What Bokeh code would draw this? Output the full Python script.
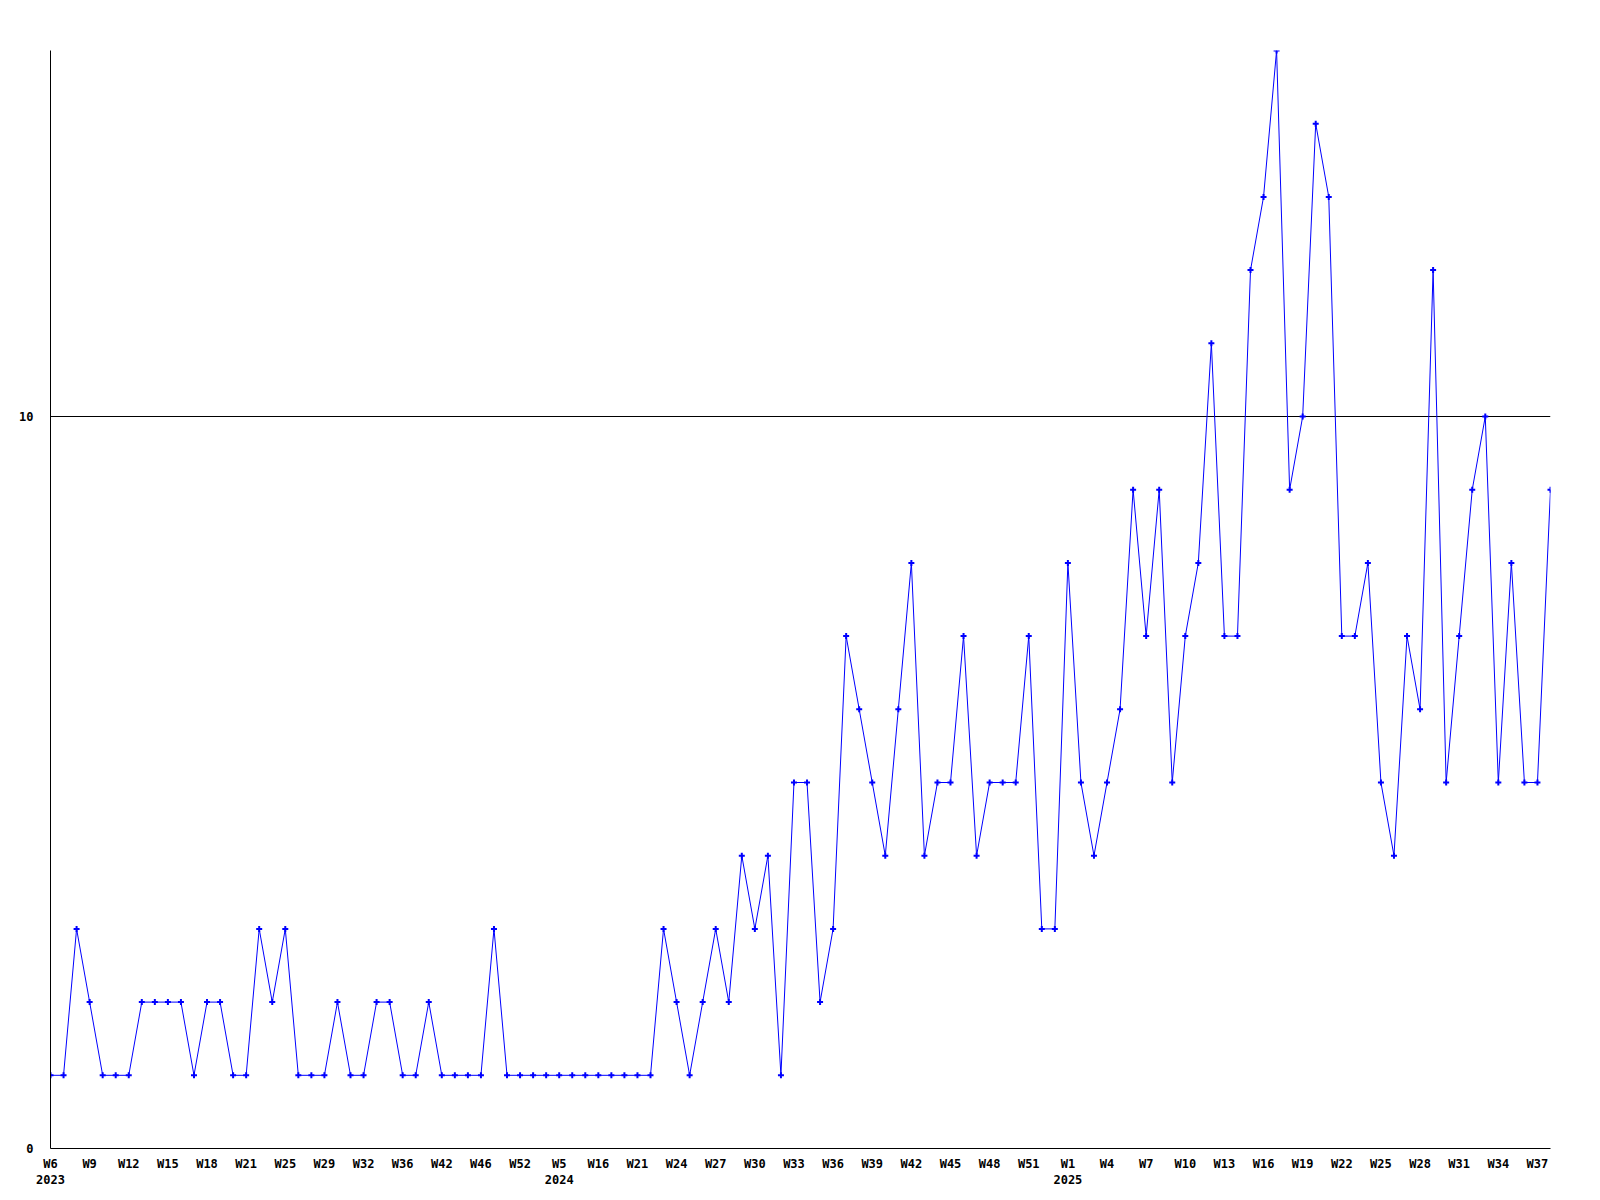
from bokeh.plotting import figure
from bokeh.models import Range1d, FixedTicker, ColumnDataSource
from bokeh.embed import file_html
from bokeh.resources import INLINE

# weekly values, W6 2023 .. W38 2025 (one point per reported week)
values = [
    1, 1, 3, 2, 1, 1, 1, 2, 2, 2, 2, 1, 2, 2, 1, 1, 3, 2, 3, 1,
    1, 1, 2, 1, 1, 2, 2, 1, 1, 2, 1, 1, 1, 1, 3, 1, 1, 1, 1, 1,
    1, 1, 1, 1, 1, 1, 1, 3, 2, 1, 2, 3, 2, 4, 3, 4, 1, 5, 5, 2,
    3, 7, 6, 5, 4, 6, 8, 4, 5, 5, 7, 4, 5, 5, 5, 7, 3, 3, 8, 5,
    4, 5, 6, 9, 7, 9, 5, 7, 8, 11, 7, 7, 12, 13, 15, 9, 10, 14, 13, 7,
    7, 8, 5, 4, 7, 6, 12, 5, 7, 9, 10, 5, 8, 5, 5, 9,
]

# labels shown on every third point
tick_labels = [
    "W6\n2023", "W9", "W12", "W15", "W18", "W21", "W25", "W29", "W32", "W36",
    "W42", "W46", "W52", "W5\n2024", "W16", "W21", "W24", "W27", "W30", "W33",
    "W36", "W39", "W42", "W45", "W48", "W51", "W1\n2025", "W4", "W7", "W10",
    "W13", "W16", "W19", "W22", "W25", "W28", "W31", "W34", "W37",
]
y_ticks = [0, 10]

x = list(range(len(values)))
tick_pos = list(range(0, len(values), 3))[:len(tick_labels)]

src = ColumnDataSource(dict(x=x, y=values))

p = figure(width=1590, height=1190, output_backend="svg", toolbar_location=None,
           x_range=Range1d(0, len(values) - 1), y_range=Range1d(0, max(values)),
           min_border_left=50, min_border_top=50, min_border_right=40, min_border_bottom=40)
p.outline_line_color = None
p.background_fill_color = "white"
p.border_fill_color = "white"

p.line("x", "y", source=src, line_color="#0000ff", line_width=1)
p.scatter("x", "y", source=src, marker="cross", size=6, line_color="#0000ff", line_width=2)

font = "DejaVu Sans Mono"
p.xaxis.ticker = FixedTicker(ticks=tick_pos)
p.xaxis.major_label_overrides = {tp: lab for tp, lab in zip(tick_pos, tick_labels)}
p.xaxis.minor_tick_line_color = None
p.xaxis.major_tick_out = 0
p.xaxis.major_tick_in = 0
p.xaxis.major_label_standoff = 8
p.xaxis.axis_line_color = "black"

p.yaxis.ticker = FixedTicker(ticks=y_ticks)
p.yaxis.minor_tick_line_color = None
p.yaxis.major_tick_out = 0
p.yaxis.major_tick_in = 0
p.yaxis.major_label_standoff = 17
p.yaxis.axis_line_color = "black"

for ax in (p.xaxis, p.yaxis):
    ax.major_label_text_font = font
    ax.major_label_text_font_style = "bold"
    ax.major_label_text_font_size = "12px"
    ax.major_label_text_color = "black"

p.xgrid.visible = False
p.ygrid.ticker = FixedTicker(ticks=y_ticks)
p.ygrid.grid_line_color = "black"
p.ygrid.grid_line_width = 1

open("out.html", "w").write(file_html(p, INLINE))
